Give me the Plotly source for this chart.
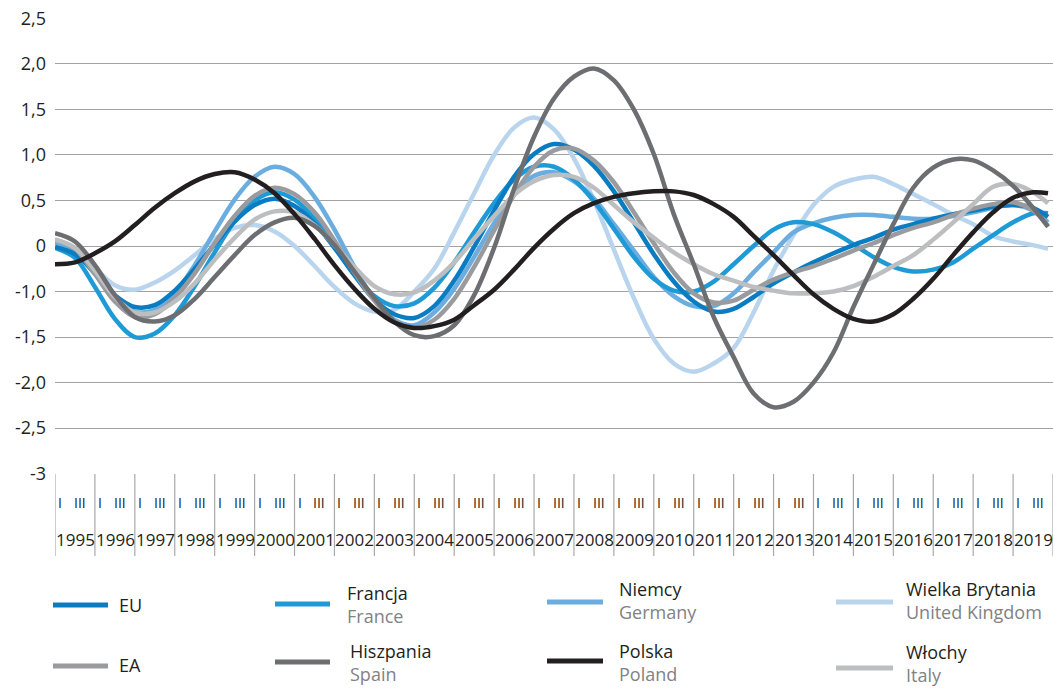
import plotly.graph_objects as go

# half-year sample positions (1995 I ... 2019 III, last point near year end)
periods = [1995 + 0.5 * i for i in range(50)] + [2019.875]
years = list(range(1995, 2020))
quarter_labels = ["I", "III"]
y_tickvals = [2.5, 2.0, 1.5, 1.0, 0.5, 0.0, -0.5, -1.0, -1.5, -2.0, -2.5]
y_ticktext = ["2,5", "2,0", "1,5", "1,0", "0,5", "0", "-1,0", "-1,5", "-2,0", "-2,5", "-3"]

eu = [-0.01, -0.09, -0.30, -0.54, -0.67, -0.65, -0.49, -0.25, 0.02, 0.27,
      0.45, 0.52, 0.44, 0.25, -0.02, -0.32, -0.59, -0.75, -0.79, -0.66,
      -0.38, -0.01, 0.39, 0.76, 1.01, 1.12, 1.06, 0.88, 0.60, 0.26,
      -0.09, -0.39, -0.61, -0.72, -0.69, -0.56, -0.41, -0.29, -0.18, -0.08,
      0.01, 0.09, 0.18, 0.24, 0.30, 0.35, 0.39, 0.43, 0.45, 0.42, 0.32]
francja = [-0.02, -0.13, -0.45, -0.80, -1.00, -0.96, -0.76, -0.44, -0.07, 0.27,
           0.50, 0.59, 0.51, 0.30, 0.00, -0.31, -0.55, -0.66, -0.63, -0.46,
           -0.18, 0.15, 0.47, 0.73, 0.87, 0.87, 0.73, 0.49, 0.19, -0.12,
           -0.36, -0.49, -0.50, -0.39, -0.20, 0.00, 0.18, 0.26, 0.24, 0.15,
           0.02, -0.12, -0.23, -0.28, -0.26, -0.18, -0.03, 0.12, 0.26, 0.36, 0.36]
niemcy = [0.04, -0.04, -0.27, -0.55, -0.72, -0.70, -0.52, -0.21, 0.16, 0.51,
          0.76, 0.87, 0.79, 0.54, 0.18, -0.23, -0.59, -0.81, -0.87, -0.73,
          -0.47, -0.12, 0.25, 0.57, 0.77, 0.81, 0.71, 0.52, 0.24, -0.05,
          -0.34, -0.55, -0.66, -0.66, -0.52, -0.29, -0.07, 0.15, 0.25, 0.31,
          0.34, 0.34, 0.32, 0.30, 0.30, 0.33, 0.37, 0.42, 0.45, 0.39, 0.26]
wielka_brytania = [0.04, -0.04, -0.24, -0.43, -0.48, -0.40, -0.27, -0.10, 0.08, 0.20,
                   0.23, 0.16, 0.00, -0.22, -0.45, -0.63, -0.72, -0.70, -0.50, -0.25,
                   0.15, 0.58, 1.00, 1.30, 1.41, 1.28, 0.96, 0.50, -0.04, -0.57,
                   -1.02, -1.29, -1.38, -1.29, -1.12, -0.73, -0.27, 0.12, 0.45, 0.65,
                   0.73, 0.76, 0.68, 0.57, 0.46, 0.34, 0.24, 0.11, 0.05, 0.01, -0.03]
ea = [0.07, -0.03, -0.31, -0.61, -0.78, -0.75, -0.57, -0.30, 0.03, 0.33,
      0.55, 0.64, 0.57, 0.37, 0.06, -0.29, -0.60, -0.82, -0.90, -0.81,
      -0.58, -0.23, 0.17, 0.56, 0.87, 1.05, 1.07, 0.94, 0.70, 0.37,
      0.03, -0.29, -0.52, -0.62, -0.60, -0.48, -0.37, -0.29, -0.22, -0.14,
      -0.05, 0.03, 0.12, 0.20, 0.26, 0.34, 0.41, 0.46, 0.48, 0.39, 0.22]
hiszpania = [0.14, 0.05, -0.21, -0.54, -0.78, -0.83, -0.76, -0.58, -0.34, -0.10,
             0.12, 0.26, 0.31, 0.22, 0.01, -0.28, -0.57, -0.83, -0.98, -0.99,
             -0.87, -0.54, -0.02, 0.63, 1.20, 1.62, 1.86, 1.95, 1.82, 1.50,
             1.01, 0.35, -0.20, -0.78, -1.22, -1.62, -1.77, -1.71, -1.50, -1.17,
             -0.67, -0.21, 0.24, 0.64, 0.86, 0.95, 0.94, 0.83, 0.66, 0.42, 0.21]
polska = [-0.20, -0.18, -0.08, 0.05, 0.23, 0.42, 0.58, 0.71, 0.79, 0.81,
          0.73, 0.58, 0.35, 0.08, -0.21, -0.47, -0.69, -0.84, -0.90, -0.88,
          -0.81, -0.65, -0.48, -0.26, -0.02, 0.19, 0.36, 0.47, 0.54, 0.58,
          0.60, 0.60, 0.56, 0.46, 0.32, 0.11, -0.10, -0.32, -0.53, -0.69,
          -0.80, -0.83, -0.75, -0.58, -0.36, -0.10, 0.15, 0.37, 0.53, 0.59, 0.58]
wlochy = [0.07, -0.02, -0.27, -0.56, -0.73, -0.73, -0.61, -0.41, -0.15, 0.09,
          0.29, 0.38, 0.37, 0.23, 0.01, -0.23, -0.44, -0.53, -0.51, -0.38,
          -0.18, 0.08, 0.33, 0.56, 0.71, 0.78, 0.76, 0.64, 0.45, 0.26,
          0.09, -0.07, -0.20, -0.31, -0.38, -0.45, -0.49, -0.52, -0.52, -0.50,
          -0.44, -0.34, -0.22, -0.10, 0.07, 0.26, 0.46, 0.65, 0.68, 0.59, 0.47]

# name (PL), name (EN), values, colour ; drawing order
series = [
    ("Wielka Brytania", "United Kingdom", wielka_brytania, "#b9d5ee"),
    ("Niemcy", "Germany", niemcy, "#6cade0"),
    ("Francja", "France", francja, "#1e9ad6"),
    ("EU", "", eu, "#0a7cc1"),
    ("EA", "", ea, "#9a9b9e"),
    ("Włochy", "Italy", wlochy, "#bcbec0"),
    ("Hiszpania", "Spain", hiszpania, "#6d6e71"),
    ("Polska", "Poland", polska, "#231f20"),
]
colors = {s[0]: s[3] for s in series}

fig = go.Figure()
for pl, en, vals, col in series:
    fig.add_trace(go.Scatter(
        x=periods, y=vals, mode="lines", name=pl,
        line=dict(color=col, width=4.5, shape="spline", smoothing=1.0),
        showlegend=False, hoverinfo="skip"))

W, H = 1053, 688
L, R, T, B = 55, 0, 18, 214
PW, PH = W - L - R, H - T - B


def px_x(px):
    return (px - L) / PW


def px_y(py):
    return (H - B - py) / PH


shapes = []
annotations = []
TXT = "#231f20"
SUB = "#808285"
FONT = "Open Sans"

# x-axis band: year separators, quarter marks, year labels
for k in range(len(years) + 1):
    shapes.append(dict(type="line", xref="x", yref="paper", x0=1995 + k, x1=1995 + k,
                       y0=0, y1=px_y(556), line=dict(color="#a7a9ac", width=1.2)))
for yr in years:
    for q, lab in zip([0.125, 0.625], quarter_labels):
        annotations.append(dict(x=yr + q, y=px_y(502), xref="x", yref="paper", text=lab,
                                showarrow=False, xanchor="center", yanchor="middle",
                                font=dict(family=FONT, size=14, color=TXT)))
    annotations.append(dict(x=yr, y=px_y(539), xref="x", yref="paper", text=str(yr),
                            showarrow=False, xanchor="left", yanchor="middle", xshift=-1,
                            font=dict(family=FONT, size=17, color=TXT)))

# custom legend: (pl, en, swatch x0, swatch x1, swatch y, text x, text centre y)
legend_items = [
    ("EU", "", 53, 108, 605, 118, 605),
    ("Francja", "France", 275, 330, 604, 346, 604),
    ("Niemcy", "Germany", 547, 603, 602, 618, 600),
    ("Wielka Brytania", "United Kingdom", 836, 893, 602, 905, 600),
    ("EA", "", 53, 108, 666, 118, 665),
    ("Hiszpania", "Spain", 275, 330, 662, 349, 662),
    ("Polska", "Poland", 547, 603, 661, 618, 662),
    ("Włochy", "Italy", 836, 893, 668, 905, 663),
]
for pl, en, sx0, sx1, sy, tx, ty in legend_items:
    shapes.append(dict(type="line", xref="paper", yref="paper",
                       x0=px_x(sx0), x1=px_x(sx1), y0=px_y(sy), y1=px_y(sy),
                       line=dict(color=colors[pl], width=5)))
    label = pl if not en else f"{pl}<br><span style='color:{SUB}'>{en}</span>"
    annotations.append(dict(x=px_x(tx), y=px_y(ty), xref="paper", yref="paper", text=label,
                            showarrow=False, xanchor="left", yanchor="middle", align="left",
                            borderpad=0,
                            font=dict(family=FONT, size=18, color=TXT)))

fig.update_layout(
    width=W, height=H,
    margin=dict(l=L, r=R, t=T, b=B, pad=0),
    paper_bgcolor="white", plot_bgcolor="white",
    xaxis=dict(range=[1995, 2020], showgrid=False, zeroline=False, showticklabels=False,
               showline=False, ticks=""),
    yaxis=dict(range=[-2.504, 2.504], tickvals=y_tickvals, ticktext=y_ticktext,
               showgrid=True, gridcolor="#a0a2a5", gridwidth=1.4, zeroline=False,
               showline=False, ticks="", ticklabelstandoff=8,
               tickfont=dict(family=FONT, size=18, color=TXT)),
    shapes=shapes, annotations=annotations,
    showlegend=False,
)

fig.write_html(
    "out.html",
    config={"displayModeBar": False},
    post_script="document.body.style.margin='0';document.body.style.padding='0';"
                "document.body.style.overflow='hidden';",
)
